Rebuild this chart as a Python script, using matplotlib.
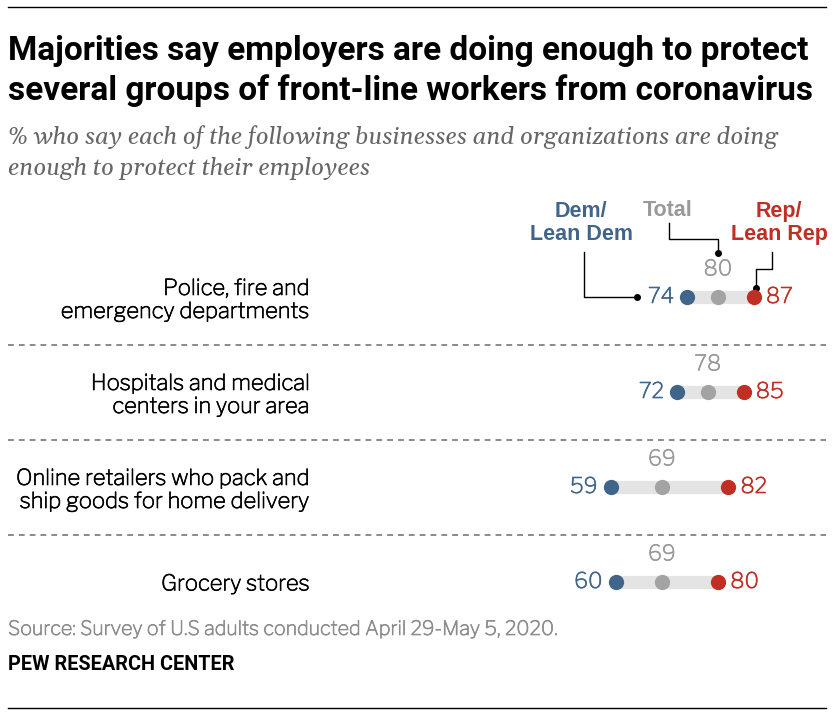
import matplotlib
matplotlib.use('Agg')
import matplotlib.pyplot as plt
import matplotlib.patheffects as pe

# data
categories = ['Police, fire and\nemergency departments',
              'Hospitals and medical\ncenters in your area',
              'Online retailers who pack and\nship goods for home delivery',
              'Grocery stores']
dem = [74, 72, 59, 60]
total = [80, 78, 69, 69]
rep = [87, 85, 82, 80]

DEM_C = '#41658a'
REP_C = '#bf2f24'
TOT_C = '#a3a3a3'
TOT_TXT = '#999999'
BAR_C = '#e4e4e4'

W, H = 840, 716
fig = plt.figure(figsize=(W / 100, H / 100), dpi=100)
fig.patch.set_facecolor('white')

# overlay in pixel coords for titles / notes
ov = fig.add_axes([0, 0, 1, 1])
ov.set_xlim(0, W)
ov.set_ylim(H, 0)
ov.axis('off')

title_font = ['Roboto', 'Liberation Sans']
serif = ['Gelasio', 'DejaVu Serif']
sans = ['Libre Franklin', 'Liberation Sans']
bold_sans = ['Liberation Sans', 'DejaVu Sans']


def heavier(color):
    # libre franklin comes out a bit light, thicken it a little
    return [pe.withStroke(linewidth=0.5, foreground=color)]


ov.plot([8, 826], [7, 7], color='black', lw=1)
ov.plot([8, 826], [708, 708], color='black', lw=1)

ov.text(8, 51, 'Majorities say employers are doing enough to protect',
        family=title_font, fontweight='bold', fontsize=24, va='center', ha='left')
ov.text(8, 91, 'several groups of front-line workers from coronavirus',
        family=title_font, fontweight='bold', fontsize=24, va='center', ha='left')
ov.text(8, 137, '% who say each of the following businesses and organizations are doing',
        family=serif, style='italic', fontsize=17.2,
        color='#666666', va='center', ha='left')
ov.text(8, 169, 'enough to protect their employees',
        family=serif, style='italic', fontsize=17.2,
        color='#666666', va='center', ha='left')

ov.text(8, 629, 'Source: Survey of U.S adults conducted April 29-May 5, 2020.',
        family=sans, fontsize=14.2, color='#8c8c8c', va='center', ha='left',
        path_effects=heavier('#8c8c8c'))
ov.text(8, 665, 'PEW RESEARCH CENTER',
        family=title_font, fontweight='bold', fontsize=14.3, color='black',
        va='center', ha='left')

# legend headers
ov.text(581, 223, 'Dem/\nLean Dem', family=bold_sans, fontweight='bold', fontsize=15.5,
        color=DEM_C, ha='center', va='center', linespacing=1.1)
ov.text(668, 211, 'Total', family=bold_sans, fontweight='bold', fontsize=15.5,
        color=TOT_TXT, ha='center', va='center')
ov.text(779, 223, 'Rep/\nLean Rep', family=bold_sans, fontweight='bold', fontsize=15.5,
        color=REP_C, ha='center', va='center', linespacing=1.1)

ov.plot([584, 584, 637], [252, 297, 297], color='black', lw=1)
ov.plot([637], [297], 'o', color='black', ms=4)
ov.plot([669, 669, 718, 718], [223, 239, 239, 253], color='black', lw=1)
ov.plot([718], [253], 'o', color='black', ms=4)
ov.plot([772, 772, 756, 756], [252, 269, 269, 288], color='black', lw=1)
ov.plot([756], [288], 'o', color='black', ms=4)

# data axes: x value 0 at 310px, 5.1 px per point
x0, ppu = 310, 5.1
row0, step = 297, 95
top_px, bot_px = 250, 630
ax = fig.add_axes([x0 / W, (H - bot_px) / H, (W - x0) / W, (bot_px - top_px) / H])
ax.set_xlim(0, (W - x0) / ppu)
ax.set_ylim((bot_px - row0) / step, (top_px - row0) / step)
ax.patch.set_alpha(0)
for s in ax.spines.values():
    s.set_visible(False)
ax.set_xticks([])
ax.set_yticks(range(len(categories)))
ax.set_yticklabels(categories, family=sans, fontsize=15.8, color='black',
                   linespacing=1.12)
for lab in ax.get_yticklabels():
    lab.set_path_effects(heavier('black'))
ax.tick_params(axis='y', length=0, pad=0)

ys = list(range(len(categories)))
for i in ys:
    ax.plot([dem[i], rep[i]], [i, i], color=BAR_C, lw=9.5, solid_capstyle='butt', zorder=1)
ax.plot(dem, ys, 'o', color=DEM_C, ms=11, mec='none', zorder=3)
ax.plot(total, ys, 'o', color=TOT_C, ms=11, mec='none', zorder=3)
ax.plot(rep, ys, 'o', color=REP_C, ms=11, mec='none', zorder=3)

for i in ys:
    ax.text(dem[i] - 2.6, i, str(dem[i]), family=sans, fontsize=15.5, color=DEM_C,
            ha='right', va='center', path_effects=heavier(DEM_C))
    ax.text(rep[i] + 2.4, i, str(rep[i]), family=sans, fontsize=15.5, color=REP_C,
            ha='left', va='center', path_effects=heavier(REP_C))
    ax.text(total[i], i - 0.29, str(total[i]), family=sans, fontsize=15.5, color=TOT_TXT,
            ha='center', va='center', path_effects=heavier(TOT_TXT))

for b in [0.5, 1.5, 2.5]:
    ax.axhline(b, xmin=(8 - x0) / (W - x0), xmax=(826 - x0) / (W - x0),
               color='#777777', lw=1.2, ls=(0, (3.5, 3)), clip_on=False)

fig.savefig('out.png', dpi=100)
